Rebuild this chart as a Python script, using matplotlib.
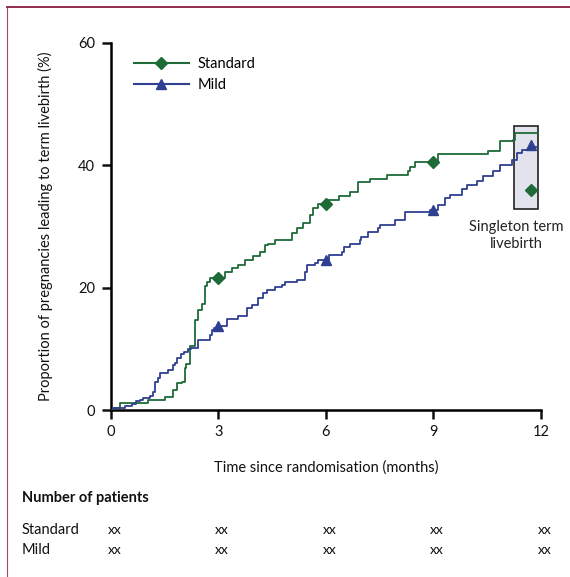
import numpy as np
import matplotlib
matplotlib.use("Agg")
import matplotlib.pyplot as plt
from matplotlib.lines import Line2D
from matplotlib.patches import Rectangle
from matplotlib.transforms import blended_transform_factory

plt.rcParams["font.family"] = ["Lato", "DejaVu Sans"]

# step curves (months, %)
STD_T = [0, 0.08, 0.25, 1.04, 1.51, 1.74, 1.83, 1.97, 2.07, 2.10, 2.20, 2.34,
         2.44, 2.53, 2.62, 2.67, 2.76, 3.18, 3.37, 3.55, 3.74, 3.97, 4.16,
         4.30, 4.39, 4.58, 5.04, 5.18, 5.37, 5.55, 5.65, 5.79, 6.07, 6.35,
         6.67, 6.90, 7.23, 7.69, 8.30, 8.34, 8.48, 9.13, 10.53, 10.86, 11.23,
         11.28, 11.93]
STD_V = [0, 0.4, 1.2, 1.6, 2.2, 3.3, 4.4, 4.6, 6.8, 7.6, 10.4, 14.7,
         16.3, 17.4, 20.2, 21.0, 21.5, 22.6, 23.2, 23.7, 24.5, 25.1, 25.9,
         27.0, 27.2, 27.8, 28.9, 29.7, 30.5, 31.9, 33.0, 33.6, 34.3, 35.0,
         35.7, 37.2, 37.7, 38.4, 39.0, 39.8, 40.5, 41.9, 42.4, 43.9, 44.1,
         45.3, 45.3]

MILD_T = [0, 0.05, 0.39, 0.58, 0.69, 0.81, 0.90, 1.09, 1.18, 1.23, 1.32,
          1.37, 1.60, 1.74, 1.80, 1.83, 1.95, 2.05, 2.14, 2.23, 2.42, 2.76,
          2.83, 2.88, 2.97, 3.23, 3.55, 3.79, 3.93, 4.11, 4.25, 4.35, 4.58,
          4.76, 4.86, 5.18, 5.41, 5.46, 5.69, 5.79, 6.09, 6.44, 6.49, 6.67,
          6.95, 6.99, 7.18, 7.46, 7.50, 7.93, 8.21, 8.90, 9.13, 9.32, 9.46,
          9.79, 9.93, 10.21, 10.39, 10.67, 10.86, 11.18, 11.32, 11.46, 11.70,
          11.88]
MILD_V = [0, 0.3, 0.6, 1.0, 1.4, 1.6, 1.9, 2.3, 3.0, 4.6, 5.3,
          6.1, 6.5, 7.4, 7.7, 8.5, 9.2, 9.5, 9.9, 10.2, 11.4, 12.3,
          13.0, 13.4, 13.8, 14.8, 15.3, 16.6, 17.2, 18.3, 19.2, 19.6, 20.1,
          20.4, 21.0, 21.3, 22.6, 23.7, 24.0, 24.5, 25.3, 25.9, 26.7, 27.2,
          27.8, 28.3, 29.1, 29.7, 30.2, 31.1, 32.3, 32.7, 33.5, 34.6, 35.1,
          36.2, 36.8, 37.5, 38.3, 39.0, 40.0, 40.9, 42.0, 42.5, 43.0,
          43.0]

# singleton term livebirth at 12 months
SINGLETON_STD = 35.9
SINGLETON_MILD = 43.4

MARK_T = [3, 6, 9]
X_TICKS = [0, 3, 6, 9, 12]
Y_TICKS = [0, 20, 40, 60]
RISK_STD = ["xx", "xx", "xx", "xx", "xx"]
RISK_MILD = ["xx", "xx", "xx", "xx", "xx"]

GREEN = "#1f6b38"
BLUE = "#2f3f92"
FRAME = "#8a1c40"


def step_at(ts, vs, t):
    i = np.searchsorted(ts, t, side="right") - 1
    return vs[i]


fig = plt.figure(figsize=(5.70, 5.77), dpi=100)
ax = fig.add_axes([0.1947, 0.2894, 0.7544, 0.6361])

ax.step(STD_T, STD_V, where="post", color=GREEN, lw=1.3, zorder=3)
ax.step(MILD_T, MILD_V, where="post", color=BLUE, lw=1.3, zorder=3)
ax.plot(MARK_T, [step_at(STD_T, STD_V, t) for t in MARK_T], "D",
        color=GREEN, ms=6, zorder=4)
ax.plot(MARK_T, [step_at(MILD_T, MILD_V, t) for t in MARK_T], "^",
        color=BLUE, ms=7.5, zorder=4)

ax.add_patch(Rectangle((11.25, 32.9), 0.68, 13.5, facecolor="#e3e3ee",
                       edgecolor="#222222", lw=1.2, zorder=2))
ax.plot([11.72], [SINGLETON_STD], "D", color=GREEN, ms=6, zorder=4)
ax.plot([11.72], [SINGLETON_MILD], "^", color=BLUE, ms=7.5, zorder=4)
ax.text(11.3, 31.0, "Singleton term\nlivebirth", ha="center", va="top",
        fontsize=10.5, color="#222222", linespacing=1.25)

handles = [
    Line2D([], [], color=GREEN, lw=1.5, marker="D", ms=6),
    Line2D([], [], color=BLUE, lw=1.5, marker="^", ms=7.5),
]
ax.legend(handles, ["Standard", "Mild"], loc="upper left",
          bbox_to_anchor=(0.053, 0.962), frameon=False, fontsize=10.5,
          handlelength=3.8, handletextpad=0.6, labelspacing=0.5,
          borderaxespad=0, borderpad=0)

ax.set_xlim(0, 12)
ax.set_ylim(0, 60)
ax.set_xticks(X_TICKS)
ax.set_yticks(Y_TICKS)
for side in ["top", "right"]:
    ax.spines[side].set_visible(False)
for side in ["left", "bottom"]:
    ax.spines[side].set_linewidth(1.8)
ax.tick_params(direction="out", length=6.5, width=1.8, labelsize=10.5,
               colors="#111111")
ax.tick_params(axis="y", pad=5)
ax.tick_params(axis="x", pad=4)
ax.set_xlabel("Time since randomisation (months)", fontsize=10.5,
              labelpad=16, color="#111111")
ax.set_ylabel("Proportion of pregnancies leading to term livebirth (%)",
              fontsize=10.5, labelpad=18, color="#111111")

# number at risk table
tr = blended_transform_factory(ax.transData, fig.transFigure)
fig.text(22 / 570, 1 - 498 / 577, "Number of patients", fontsize=10.5,
         fontweight="bold", va="center", ha="left", color="#111111")
fig.text(22 / 570, 1 - 530 / 577, "Standard", fontsize=10.5, va="center",
         ha="left", color="#111111")
fig.text(22 / 570, 1 - 550 / 577, "Mild", fontsize=10.5, va="center",
         ha="left", color="#111111")
for x, s, m in zip(X_TICKS, RISK_STD, RISK_MILD):
    ax.text(x + 0.1, 1 - 530 / 577, s, transform=tr, ha="center",
            va="center", fontsize=10, color="#111111", clip_on=False)
    ax.text(x + 0.1, 1 - 550 / 577, m, transform=tr, ha="center",
            va="center", fontsize=10, color="#111111", clip_on=False)

# page frame lines (top and left)
fig.add_artist(Line2D([7 / 570, 1], [1 - 7 / 577, 1 - 7 / 577],
                      color=FRAME, lw=1.3, transform=fig.transFigure))
fig.add_artist(Line2D([7 / 570, 7 / 570], [0, 1 - 7 / 577],
                      color=FRAME, lw=0.8, alpha=0.8,
                      transform=fig.transFigure))

fig.savefig("out.png", dpi=100)
